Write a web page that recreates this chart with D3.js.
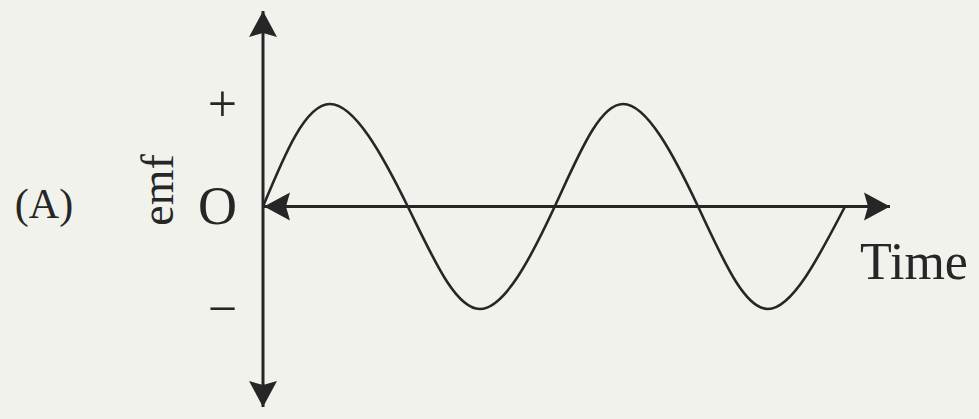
<!DOCTYPE html>
<html lang="en">

<head>
    <meta charset="UTF-8">
    <script src="https://d3js.org/d3.v7.min.js"></script>
    <title>emf vs time</title>
    <style>
        body { margin: 0; background: #f1f2ec; }
        svg { display: block; }
        text { font-family: "Liberation Serif", "DejaVu Serif", serif; fill: #262626; }
    </style>
</head>

<body>
    <div id="chart"></div>
    <script>
        // Data (time in quarter periods, emf normalised)
        const timeSteps = [0, 0.92, 1.99, 2.98, 4.01, 4.95, 5.98, 6.94, 8];
        const emfValues = [0, 1, 0, -1, 0, 1, 0, -1, 0];
        const emfTicks = [1, 0, -1];
        const emfTickLabels = ["+", "O", "\u2212"];

        const points = timeSteps.map((t, i) => ({ t: t, emf: emfValues[i] }));

        // Chart dimensions
        const width = 979;
        const height = 419;
        const ink = "#262626";

        const svg = d3.select("#chart")
            .append("svg")
            .attr("width", width)
            .attr("height", height);

        svg.append("rect")
            .attr("width", width)
            .attr("height", height)
            .attr("fill", "#f1f2ec");

        // Scales
        const xScale = d3.scaleLinear()
            .domain([0, 8])
            .range([263, 845]);

        const yScale = d3.scaleLinear()
            .domain([-1, 1])
            .range([309, 104]);

        // Arrow heads
        const defs = svg.append("defs");
        defs.append("marker")
            .attr("id", "head")
            .attr("viewBox", "-26 -15 28 30")
            .attr("markerWidth", 28)
            .attr("markerHeight", 30)
            .attr("markerUnits", "userSpaceOnUse")
            .attr("refX", 0)
            .attr("refY", 0)
            .attr("orient", "auto-start-reverse")
            .append("path")
            .attr("d", "M0,0 L-26,-14 L-22,0 L-26,14 Z")
            .attr("fill", ink);

        // Vertical axis (emf), arrows both ends
        svg.append("line")
            .attr("x1", xScale(0))
            .attr("x2", xScale(0))
            .attr("y1", 407)
            .attr("y2", 11)
            .attr("stroke", ink)
            .attr("stroke-width", 3)
            .attr("marker-start", "url(#head)")
            .attr("marker-end", "url(#head)");

        // Horizontal axis (time), arrows both ends
        svg.append("line")
            .attr("x1", xScale(0) + 1)
            .attr("x2", 890)
            .attr("y1", yScale(0))
            .attr("y2", yScale(0))
            .attr("stroke", ink)
            .attr("stroke-width", 3)
            .attr("marker-start", "url(#head)")
            .attr("marker-end", "url(#head)");

        // Tick labels + O -
        svg.append("g")
            .attr("transform", `translate(${xScale(0)},0)`)
            .call(d3.axisLeft(yScale)
                .tickValues(emfTicks)
                .tickFormat((d, i) => emfTickLabels[i])
                .tickSize(0)
                .tickPadding(26))
            .call(g => g.select(".domain").remove())
            .selectAll("text")
            .style("font-family", "'Liberation Serif', serif")
            .style("font-size", (d) => d === 0 ? "54px" : "52px")
            .style("fill", ink);

        // Sine wave
        const line = d3.line()
            .x(d => xScale(d.t))
            .y(d => yScale(d.emf))
            .curve(d3.curveNatural);

        svg.append("path")
            .datum(points)
            .attr("d", line)
            .attr("fill", "none")
            .attr("stroke", ink)
            .attr("stroke-width", 2.6);

        // Labels
        svg.append("text")
            .attr("transform", "translate(173,190) rotate(-90)")
            .attr("text-anchor", "middle")
            .style("font-size", "46px")
            .text("emf");

        svg.append("text")
            .attr("x", 44)
            .attr("y", 218)
            .attr("text-anchor", "middle")
            .style("font-size", "42px")
            .text("(A)");

        svg.append("text")
            .attr("x", 860)
            .attr("y", 279)
            .style("font-size", "52px")
            .text("Time");
    </script>
</body>

</html>
